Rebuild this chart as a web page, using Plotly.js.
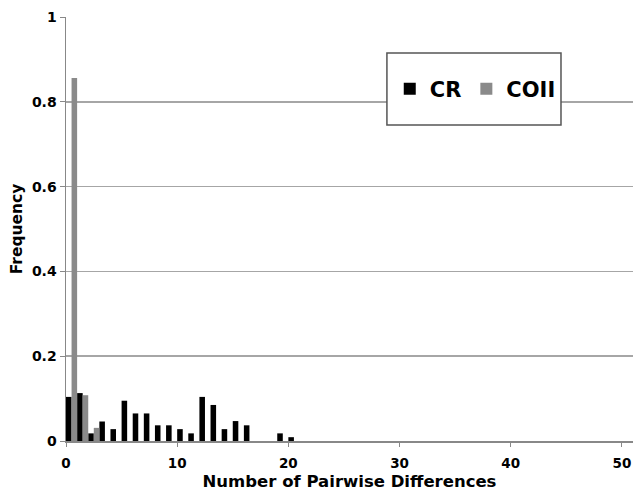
<!DOCTYPE html>
<html>
<head>
<meta charset="utf-8">
<script src="https://cdn.plot.ly/plotly-3.0.1.min.js"></script>
<style>html,body{margin:0;padding:0;background:#fff;}#chart{width:635px;height:494px;}</style>
</head>
<body>
<div id="chart"></div>
<script>
// Number of pairwise differences (category index)
const differences = [0,1,2,3,4,5,6,7,8,9,10,11,12,13,14,15,16,17,18,19,20];
const crFreq   = [0.104,0.113,0.018,0.046,0.028,0.095,0.065,0.065,0.037,0.037,0.028,0.018,0.104,0.085,0.028,0.047,0.037,0,0,0.018,0.009];
const coiiFreq = [0.856,0.108,0.031,0,0,0,0,0,0,0,0,0,0,0,0,0,0,0,0,0,0];
const xTickVals = [0,10,20,30,40,50];
const yTickVals = [0,0.2,0.4,0.6,0.8,1];
const yTickText = ['0','0.2','0.4','0.6','0.8','1'];

const fontFam = 'DejaVu Sans, Verdana, sans-serif';

const traces = [
  {type:'bar', name:'CR', x:differences, y:crFreq, offset:0, width:0.5,
   marker:{color:'#000000', line:{width:0}}},
  {type:'bar', name:'COII', x:differences, y:coiiFreq, offset:0.5, width:0.5,
   marker:{color:'#8a8a8a', line:{width:0}}}
];

const layout = {
  width:635, height:494,
  margin:{l:66, r:2, t:17, b:53},
  paper_bgcolor:'#ffffff', plot_bgcolor:'#ffffff',
  barmode:'overlay',
  font:{family:fontFam, color:'#000', weight:'bold'},
  showlegend:true,
  legend:{orientation:'h', x:0.571, xanchor:'left', y:0.83, yanchor:'middle',
    font:{family:fontFam, size:21, color:'#000', weight:'bold'},
    bgcolor:'rgba(0,0,0,0)', borderwidth:0, itemwidth:30, traceorder:'normal'},
  xaxis:{range:[0,51], tickvals:xTickVals, ticks:'outside', ticklen:4, tickcolor:'#888',
    ticklabelstandoff:5,
    showgrid:false, zeroline:false, showline:true, linecolor:'#888', linewidth:1.5,
    tickfont:{family:fontFam, size:13.5, weight:'bold'},
    title:{text:'Number of Pairwise Differences', standoff:5,
      font:{family:fontFam, size:16.5, weight:'bold'}}},
  yaxis:{range:[0,1], tickvals:yTickVals, ticktext:yTickText, ticks:'outside', ticklen:5, tickcolor:'#888',
    showgrid:true, gridcolor:'#a6a6a6', gridwidth:1.5, zeroline:false,
    showline:true, linecolor:'#888', linewidth:1.5,
    tickfont:{family:fontFam, size:14, weight:'bold'},
    title:{text:'Frequency', standoff:5,
      font:{family:fontFam, size:15.5, weight:'bold'}}},
  shapes:[{type:'rect', xref:'paper', yref:'paper', x0:0.566, x1:0.873, y0:0.745, y1:0.915,
    line:{color:'#555', width:1.5}, fillcolor:'#ffffff', layer:'above'}]
};

Plotly.newPlot('chart', traces, layout, {displayModeBar:false, staticPlot:true});
</script>
</body>
</html>
